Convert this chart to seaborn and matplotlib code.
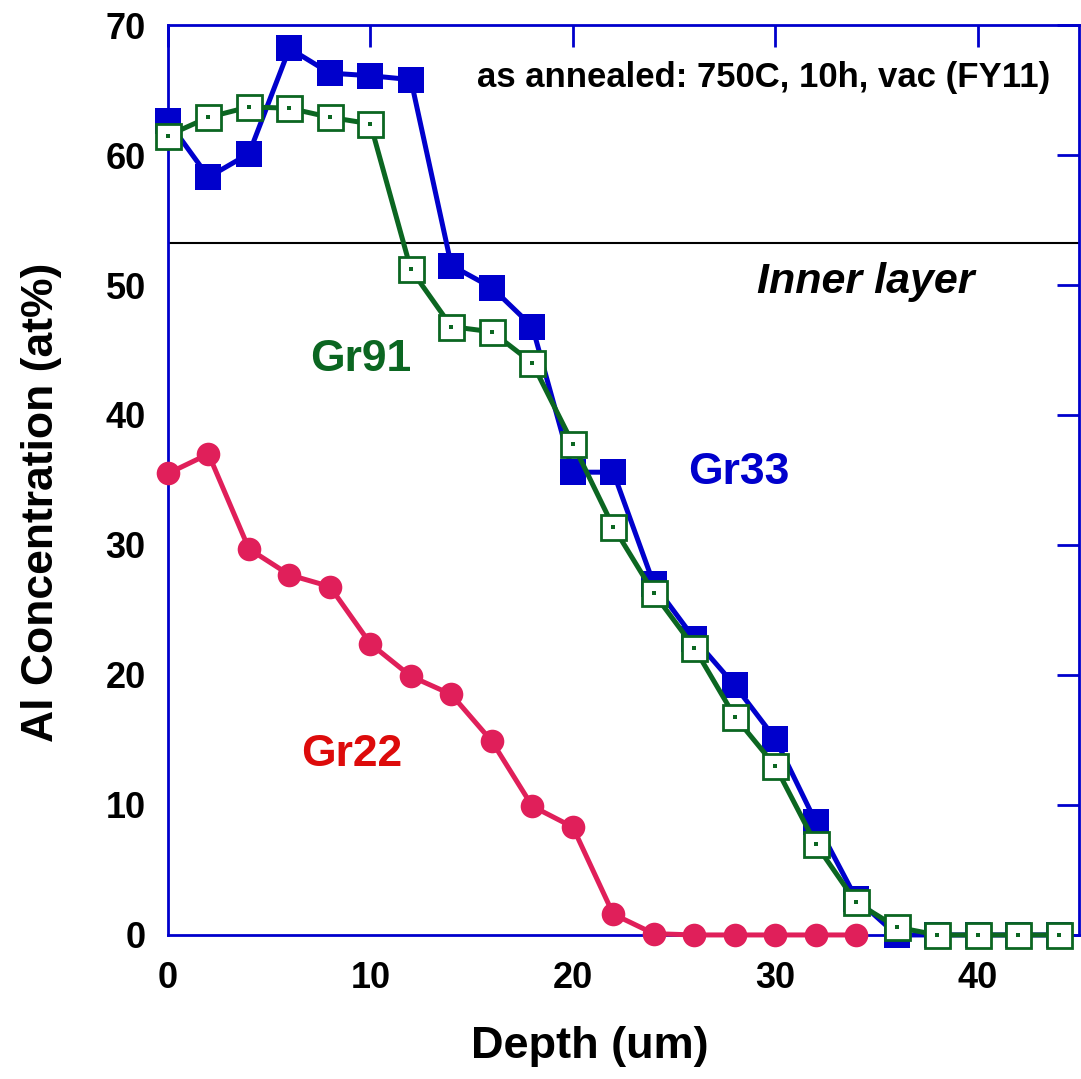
import numpy as np
import pandas as pd
import matplotlib
matplotlib.use("Agg")
import matplotlib.pyplot as plt
import seaborn as sns

# ---- data ----
depth_33 = [0, 2, 4, 6, 8, 10, 12, 14, 16, 18, 20, 22, 24, 26, 28, 30, 32, 34, 36, 38, 40, 42, 44]
al_33 = [62.6, 58.3, 60.1, 68.2, 66.3, 66.1, 65.8, 51.5, 49.8, 46.8, 35.6, 35.6, 27.0, 22.8, 19.2, 15.1, 8.7, 2.8, 0.0, 0.0, 0.0, 0.0, 0.0]

depth_91 = [0, 2, 4, 6, 8, 10, 12, 14, 16, 18, 20, 22, 24, 26, 28, 30, 32, 34, 36, 38, 40, 42, 44]
al_91 = [61.5, 62.9, 63.7, 63.6, 62.9, 62.4, 51.2, 46.8, 46.4, 44.0, 37.8, 31.4, 26.3, 22.1, 16.8, 13.0, 7.0, 2.5, 0.6, 0.0, 0.0, 0.0, 0.0]

depth_22 = [0, 2, 4, 6, 8, 10, 12, 14, 16, 18, 20, 22, 24, 26, 28, 30, 32, 34]
al_22 = [35.5, 37.0, 29.7, 27.7, 26.8, 22.4, 19.9, 18.5, 14.9, 9.9, 8.3, 1.6, 0.1, 0.0, 0.0, 0.0, 0.0, 0.0]

inner_layer_level = 53.2
x_ticks = [0, 10, 20, 30, 40]
y_ticks = [0, 10, 20, 30, 40, 50, 60, 70]

BLUE = "#0000CC"
GREEN = "#0B6621"
RED = "#E01F5A"
RED_TXT = "#DD0B0B"

sns.set_theme(style="white")
plt.rcParams['font.family'] = ['Liberation Sans', 'DejaVu Sans']
plt.rcParams['text.color'] = 'black'
plt.rcParams['axes.labelcolor'] = 'black'
plt.rcParams['xtick.color'] = 'black'
plt.rcParams['ytick.color'] = 'black'

fig = plt.figure(figsize=(10.81, 10.79), dpi=100)
ax = fig.add_axes([0.1554, 0.1335, 0.998 - 0.1554, 0.9768 - 0.1335])

df33 = pd.DataFrame({"x": depth_33, "y": al_33})
df91 = pd.DataFrame({"x": depth_91, "y": al_91})
df22 = pd.DataFrame({"x": depth_22, "y": al_22})

ax.axhline(inner_layer_level, color="black", lw=1.5, zorder=1)

sns.lineplot(data=df33, x="x", y="y", ax=ax, color=BLUE, lw=3.6, sort=False,
             marker="s", markersize=19, markerfacecolor=BLUE, markeredgecolor=BLUE,
             markeredgewidth=0, zorder=3, clip_on=False)
sns.lineplot(data=df91, x="x", y="y", ax=ax, color=GREEN, lw=3.6, sort=False,
             marker="s", markersize=18, markerfacecolor="white", markeredgecolor=GREEN,
             markeredgewidth=2.0, zorder=4, clip_on=False)
sns.scatterplot(data=df91, x="x", y="y", ax=ax, color=GREEN, marker="s", s=5,
                linewidth=0, zorder=5, clip_on=False)
sns.lineplot(data=df22, x="x", y="y", ax=ax, color=RED, lw=3.6, sort=False,
             marker="o", markersize=17, markerfacecolor=RED, markeredgecolor=RED,
             markeredgewidth=0, zorder=6, clip_on=False)

ax.set_xlim(0, 45)
ax.set_ylim(0, 70)
ax.set_xticks(x_ticks)
ax.set_yticks(y_ticks)
ax.tick_params(direction="in", length=16, width=2, color=BLUE, top=True, right=True,
               labelsize=26, labelcolor="black")
ax.tick_params(axis="x", pad=19)
ax.tick_params(axis="y", pad=16)
for lab in ax.get_xticklabels() + ax.get_yticklabels():
    lab.set_fontweight("bold")
for sp in ax.spines.values():
    sp.set_color(BLUE)
    sp.set_linewidth(2)

ax.set_xlabel("Depth (um)", fontsize=32.5, fontweight="bold", color="black")
ax.set_ylabel("Al Concentration (at%)", fontsize=32, fontweight="bold", color="black")
ax.xaxis.set_label_coords(0.463, -0.100)
ax.yaxis.set_label_coords(-0.1164, 0.475)

ax.text(0.969, 0.942, "as annealed: 750C, 10h, vac (FY11)", transform=ax.transAxes,
        ha="right", va="center", fontsize=25, fontweight="bold", color="black")
ax.text(0.885, 0.718, "Inner layer", transform=ax.transAxes, ha="right", va="center",
        fontsize=31, fontweight="bold", fontstyle="italic", color="black")
ax.text(7.0, 44.3, "Gr91", ha="left", va="center", fontsize=32, fontweight="bold", color=GREEN)
ax.text(25.7, 35.6, "Gr33", ha="left", va="center", fontsize=32, fontweight="bold", color=BLUE)
ax.text(6.6, 13.9, "Gr22", ha="left", va="center", fontsize=32, fontweight="bold", color=RED_TXT)

fig.savefig("out.png", dpi=100)
